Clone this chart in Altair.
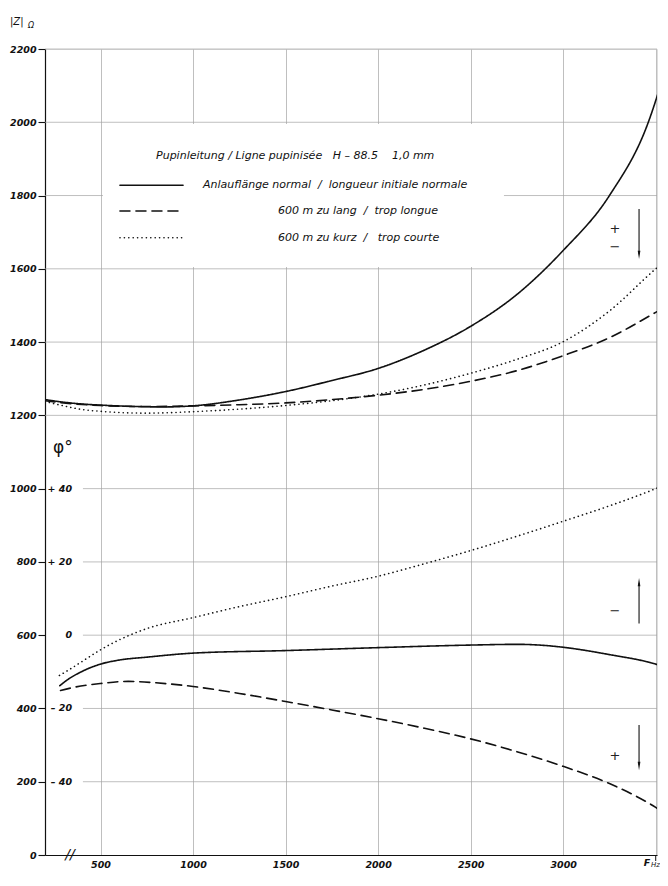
import altair as alt
import pandas as pd

# ---------------- data ----------------
# |Z| in ohms
freq_z_normal = [200, 300, 400, 500, 700, 850, 1000, 1250, 1500, 1750, 2000, 2250, 2500, 2750, 3000, 3250, 3460, 3550]
z_normal = [1243, 1236, 1231, 1228, 1224, 1223, 1226, 1242, 1265, 1295, 1328, 1378, 1443, 1530, 1650, 1800, 2000, 2140]

freq_z_lang = [200, 300, 500, 750, 1000, 1250, 1500, 1750, 2000, 2250, 2500, 2750, 3000, 3250, 3500, 3566]
z_lang = [1240, 1234, 1227, 1224, 1226, 1229, 1234, 1243, 1255, 1271, 1293, 1322, 1363, 1412, 1481, 1500]

freq_z_kurz = [200, 300, 400, 500, 750, 1000, 1250, 1500, 1750, 2000, 2250, 2500, 2750, 3000, 3250, 3500, 3566]
z_kurz = [1238, 1226, 1216, 1211, 1206, 1210, 1217, 1227, 1240, 1258, 1283, 1315, 1353, 1401, 1485, 1600, 1628]

# phase angle in degrees
freq_p_normal = [280, 315, 400, 500, 600, 750, 1000, 1500, 2000, 2500, 2750, 2900, 3000, 3250, 3500, 3566]
p_normal = [-13.8, -12.4, -9.9, -7.9, -6.8, -6.0, -4.9, -4.2, -3.4, -2.7, -2.5, -2.8, -3.3, -5.3, -7.9, -9.0]

freq_p_lang = [284, 350, 500, 650, 800, 1000, 1250, 1500, 1750, 2000, 2250, 2500, 2750, 3000, 3250, 3500, 3566]
p_lang = [-15.1, -14.3, -13.2, -12.6, -13.0, -14.0, -15.9, -18.1, -20.4, -22.8, -25.4, -28.3, -31.8, -35.8, -40.5, -47.0, -49.2]

freq_p_kurz = [278, 315, 400, 500, 657, 750, 1000, 1250, 1500, 1750, 2000, 2250, 2500, 2750, 3000, 3250, 3500, 3566]
p_kurz = [-11.0, -9.9, -7.2, -4.0, 0.0, 1.8, 4.8, 7.8, 10.5, 13.4, 16.1, 19.5, 23.1, 27.0, 31.1, 35.3, 40.0, 41.4]

series_keys = ["normal", "lang", "kurz"]
NB = "\u00a0"
legend_texts = [
    "Anlauflänge normal" + NB + " / " + NB + "longueur initiale normale",
    "600 m zu lang" + NB + " / " + NB + "trop longue",
    "600 m zu kurz" + NB + " / " + NB + NB + "trop courte",
]
legend_title = ("Pupinleitung / Ligne pupinisée" + NB + NB + " H – 88.5" + NB + NB + NB + " 1,0 mm")

x_ticks = [500, 1000, 1500, 2000, 2500, 3000, 3500]
y_ticks = [0, 200, 400, 600, 800, 1000, 1200, 1400, 1600, 1800, 2000, 2200]
z_grid = [2200, 2000, 1800, 1600, 1400, 1200]
phase_grid_deg = [40, 20, 0, -20, -40]
phase_labels = ["+ 40", "+ 20", "0", "– 20", "– 40"]

# ---------------- build tables ----------------
rows = []
for kind, s, fr, vals in [
    ("Z", "normal", freq_z_normal, z_normal),
    ("Z", "lang", freq_z_lang, z_lang),
    ("Z", "kurz", freq_z_kurz, z_kurz),
    ("phi", "normal", freq_p_normal, p_normal),
    ("phi", "lang", freq_p_lang, p_lang),
    ("phi", "kurz", freq_p_kurz, p_kurz),
]:
    for f, v in zip(fr, vals):
        rows.append({"f": f, "v": v, "series": s, "kind": kind, "curve": kind + "-" + s})
curves = pd.DataFrame(rows)

FONT = "DejaVu Sans"
INK = "#111111"
GRID = "#a3a3a3"
XMIN, XMAX = 200, 3507
W, H = 612, 806

xs = alt.Scale(domain=[XMIN, XMAX], nice=False, zero=False)
ys = alt.Scale(domain=[0, 2200], nice=False, zero=False)

xaxis = alt.Axis(values=x_ticks, title=None, grid=True, gridColor=GRID, gridWidth=0.7,
                 tickSize=0, labelPadding=4, labelFont=FONT, labelFontStyle="italic",
                 labelFontWeight="bold", labelFontSize=9.5, labelColor=INK,
                 domainColor=INK, domainWidth=1.2,
                 format="d", labelFlush=False,
                 labelExpr="datum.value == 3500 ? '' : datum.label")
yaxis = alt.Axis(values=y_ticks, title=None, grid=False, tickSize=7, tickColor=INK,
                 tickWidth=1.1, labelPadding=2, labelFont=FONT, labelFontStyle="italic",
                 labelFontWeight="bold", labelFontSize=9.5, labelColor=INK,
                 domainColor=INK, domainWidth=1.2,
                 format="d")

dash_scale = alt.Scale(domain=series_keys, range=[[1, 0], [10, 6], [0.1, 4.3]])
width_scale = alt.Scale(domain=series_keys, range=[1.6, 1.6, 2.0])

def X(field):
    return alt.X(field, type="quantitative", scale=xs, axis=xaxis)

def Y(field):
    return alt.Y(field, type="quantitative", scale=ys, axis=yaxis)

# horizontal grid lines (phase lines start right of phase labels)
hgrid = pd.DataFrame(
    [{"y": v, "x": XMIN, "x2": XMAX} for v in z_grid]
    + [{"y": 600 + 10 * d, "x": 405, "x2": XMAX} for d in phase_grid_deg]
)
grid_layer = alt.Chart(hgrid).mark_rule(color=GRID, strokeWidth=0.7).encode(
    x=X("x"), x2="x2", y=Y("y"))

# white box behind the legend
box = alt.Chart(pd.DataFrame({"x": [513], "x2": [2680], "y": [1605], "y2": [1995]})).mark_rect(
    color="white").encode(x=X("x"), x2="x2", y=Y("y"), y2="y2")

curve_layer = alt.Chart(curves).transform_calculate(
    y="datum.kind == 'phi' ? 600 + 10 * datum.v : datum.v"
).mark_line(interpolate="monotone", color=INK, strokeCap="round", clip=True).encode(
    x=X("f"), y=Y("y"),
    detail="curve:N",
    strokeDash=alt.StrokeDash("series:N", scale=dash_scale, legend=None),
    strokeWidth=alt.StrokeWidth("series:N", scale=width_scale, legend=None),
)

# legend samples and texts
leg = pd.DataFrame({"series": series_keys, "y": [1828, 1758, 1685], "text": legend_texts,
                    "x": [605, 605, 605], "x2": [946, 946, 946],
                    "tx": [1054, 1459, 1459]})
leg_lines = alt.Chart(leg).mark_rule(color=INK, strokeCap="round").encode(
    x=X("x"), x2="x2", y=Y("y"),
    strokeDash=alt.StrokeDash("series:N", scale=alt.Scale(domain=series_keys,
                              range=[[1, 0], [9, 4.5], [0.1, 6]]), legend=None),
    strokeWidth=alt.StrokeWidth("series:N", scale=alt.Scale(domain=series_keys,
                                range=[1.8, 1.8, 2.3]), legend=None))
leg_text = alt.Chart(leg).mark_text(align="left", baseline="middle", font=FONT,
                                    fontStyle="italic", fontSize=11, color=INK).encode(
    x=X("tx"), y=Y("y"), text="text:N")
title_text = alt.Chart(pd.DataFrame({"x": [800], "y": [1907], "t": [legend_title]})).mark_text(
    align="left", baseline="middle", font=FONT, fontStyle="italic", fontSize=11, color=INK).encode(
    x=X("x"), y=Y("y"), text="t:N")

# phase axis labels
ph = pd.DataFrame({"x": [346] * 5, "y": [600 + 10 * d for d in phase_grid_deg], "t": phase_labels})
ph_text = alt.Chart(ph).mark_text(align="right", baseline="middle", font=FONT,
                                  fontStyle="italic", fontWeight="bold", fontSize=9.5,
                                  color=INK).encode(
    x=X("x"), y=Y("y"), text="t:N")
phi_sym = alt.Chart(pd.DataFrame({"x": [297], "y": [1110], "t": ["φ°"]})).mark_text(
    align="center", baseline="middle", font=FONT, fontSize=17, color=INK).encode(
    x=X("x"), y=Y("y"), text="t:N")

# sign annotations and arrows
signs = pd.DataFrame({"x": [3280, 3280, 3280, 3280], "y": [1710, 1660, 667, 271],
                      "t": ["+", "\u2212", "\u2212", "+"]})
sign_text = alt.Chart(signs).mark_text(align="center", baseline="middle", font=FONT,
                                       fontSize=13, color="#222").encode(
    x=X("x"), y=Y("y"), text="t:N")
arrows = pd.DataFrame({"x": [3410, 3410, 3410], "y": [1763, 632, 355], "y2": [1640, 742, 246]})
arrow_lines = alt.Chart(arrows).mark_rule(color=INK, strokeWidth=1.1).encode(
    x=X("x"), y=Y("y"), y2="y2")
heads = pd.DataFrame({"x": [3410, 3410, 3410], "y": [1638, 745, 243],
                      "s": ["M-0.32,-1L0.32,-1L0,1Z", "M-0.32,1L0.32,1L0,-1Z", "M-0.32,-1L0.32,-1L0,1Z"]})
arrow_heads = alt.Chart(heads).mark_point(filled=True, color=INK, size=70, opacity=1).encode(
    x=X("x"), y=Y("y"), shape=alt.Shape("s:N", scale=None, legend=None))

# axis break and F_Hz
brk = alt.Chart(pd.DataFrame({"x": [335], "y": [0], "t": ["//"]})).mark_text(
    align="center", baseline="middle", font=FONT, fontSize=14, fontStyle="italic", color=INK).encode(
    x=X("x"), y=Y("y"), text="t:N")
ftick = alt.Chart(pd.DataFrame({"x": [3500]})).mark_rule(color=INK, strokeWidth=1).encode(
    x=X("x"), y=alt.value(H), y2=alt.value(H + 6))
f_lbl = alt.Chart(pd.DataFrame({"t": ["F"]})).mark_text(
    align="center", baseline="middle", font=FONT, fontStyle="italic", fontWeight="bold",
    fontSize=9.5, color=INK).encode(
    x=alt.value(W - 10), y=alt.value(H + 8), text="t:N")
hz_lbl = alt.Chart(pd.DataFrame({"t": ["Hz"]})).mark_text(
    align="left", baseline="middle", font=FONT, fontStyle="italic", fontSize=7, color=INK).encode(
    x=alt.value(W - 6), y=alt.value(H + 10), text="t:N")
z_lbl = alt.Chart(pd.DataFrame({"t": ["|Z|"]})).mark_text(
    align="left", baseline="middle", font=FONT, fontStyle="italic", fontSize=10, color=INK).encode(
    x=alt.value(-35), y=alt.value(-27), text="t:N")
ohm_lbl = alt.Chart(pd.DataFrame({"t": ["Ω"]})).mark_text(
    align="left", baseline="middle", font=FONT, fontStyle="italic", fontSize=8, color=INK).encode(
    x=alt.value(-17), y=alt.value(-23), text="t:N")

chart = alt.layer(
    grid_layer, box, curve_layer, leg_lines, leg_text, title_text, ph_text, phi_sym,
    sign_text, arrow_lines, arrow_heads, brk, ftick, f_lbl, hz_lbl, z_lbl, ohm_lbl
).properties(
    width=W, height=H,
    autosize=alt.AutoSizeParams(type="none"),
    padding={"left": 37, "top": 41, "right": 3, "bottom": 15},
).configure_view(stroke=None).configure(background="white")

chart.save("out.html", embed_options={"renderer": "svg", "actions": False})
